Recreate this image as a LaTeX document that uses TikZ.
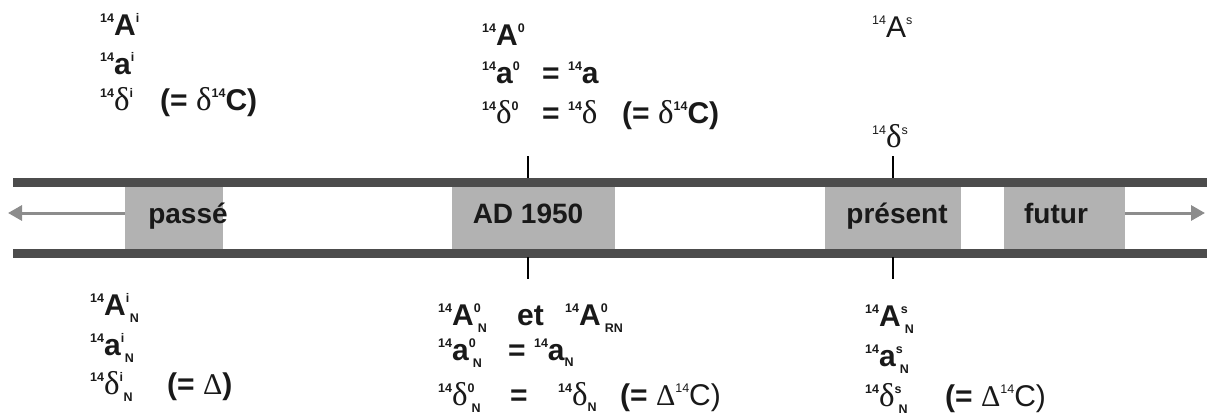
\documentclass[tikz,border=0pt]{standalone}
\usepackage{fontspec}
\setmainfont{Liberation Sans}
\newfontfamily\symf{Liberation Serif}
\usetikzlibrary{arrows.meta}
\newcommand\smallsz{\fontsize{12.5}{12.5}\selectfont}
\newcommand\pre[1]{\raisebox{12.5pt}{\smallsz #1}}
\newcommand\up[1]{\raisebox{12.5pt}{\smallsz #1}}
\newcommand\dn[1]{\raisebox{-6pt}{\smallsz #1}}
\newcommand\updn[2]{\rlap{\raisebox{13pt}{\smallsz #1}}\hspace{4pt}\raisebox{-7pt}{\smallsz #2}}
\newcommand\dl{{\symf\mdseries\fontsize{33}{33}\selectfont δ}}
\newcommand\Dl{{\symf\mdseries Δ}}
\tikzset{
  txt/.style={anchor=base west, inner sep=0pt, font=\fontsize{30}{30}\selectfont\bfseries, text=black!90},
  lighttxt/.style={txt, font=\fontsize{30}{30}\selectfont\mdseries},
  band/.style={draw=black!70, line width=9pt},
  period/.style={fill=black!30, draw=none, inner sep=0pt},
  plabel/.style={anchor=base, inner sep=0pt, font=\fontsize{28}{28}\selectfont\bfseries, text=black!90},
  tick/.style={draw=black, line width=2pt},
  timearrow/.style={draw=black!45, line width=3pt, -{Triangle[length=14pt,width=15pt]}}
}
\begin{document}
\begin{tikzpicture}[x=1pt,y=-1pt]
\useasboundingbox (0,0) rectangle (1207,418);
% period boxes
\path[period] (125,182) rectangle (223,253);
\path[period] (452,182) rectangle (615,253);
\path[period] (825,182) rectangle (961,253);
\path[period] (1004,182) rectangle (1125,253);
% bands
\coordinate (tl) at (13,182); \coordinate (tr) at (1207,182);
\coordinate (bl) at (13,253); \coordinate (br) at (1207,253);
\draw[band] (tl) -- (tr);
\draw[band] (bl) -- (br);
% period labels
\node[plabel] (passe) at (188,223) {passé};
\node[plabel] (ad) at (528,223) {AD 1950};
\node[plabel] (present) at (897,223) {présent};
\node[plabel] (futur) at (1056,223) {futur};
% arrows
\coordinate (pastL) at (125,213); \coordinate (pastend) at (8,213);
\coordinate (futR) at (1125,213); \coordinate (futend) at (1205,213);
\draw[timearrow] (pastL) -- (pastend);
\draw[timearrow] (futR) -- (futend);
% ticks
\coordinate (t1a) at (528,156); \coordinate (t1b) at (528,178);
\coordinate (t1c) at (528,257); \coordinate (t1d) at (528,279);
\coordinate (t2a) at (893,156); \coordinate (t2b) at (893,178);
\coordinate (t2c) at (893,257); \coordinate (t2d) at (893,279);
\draw[tick] (t1a) -- (t1b); \draw[tick] (t1c) -- (t1d);
\draw[tick] (t2a) -- (t2b); \draw[tick] (t2c) -- (t2d);
% top-left
\node[txt] (tla) at (100,35) {\pre{14}A\up{i}};
\node[txt] (tlb) at (100,74) {\pre{14}a\up{i}};
\node[txt] (tlc) at (100,110) {\pre{14}\dl\up{i}};
\node[txt] (tld) at (160,110) {(= \dl\pre{14}C)};
% top-middle
\node[txt] (tma) at (482,45) {\pre{14}A\up{0}};
\node[txt] (tmb) at (482,83) {\pre{14}a\up{0}};
\node[txt] (tmb2) at (542,83) {= \pre{14}a};
\node[txt] (tmc) at (482,123) {\pre{14}\dl\up{0}};
\node[txt] (tmc2) at (542,123) {= \pre{14}\dl};
\node[txt] (tmc3) at (622,123) {(= \dl\pre{14}C)};
% top-right
\node[lighttxt] (tra) at (872,37) {\pre{14}A\up{s}};
\node[lighttxt] (trb) at (872,147) {\pre{14}\dl\up{s}};
% bottom-left
\node[txt] (bla) at (90,315) {\pre{14}A\updn{i}{N}};
\node[txt] (blb) at (90,355) {\pre{14}a\updn{i}{N}};
\node[txt] (blc) at (90,394) {\pre{14}\dl\updn{i}{N}};
\node[txt] (blc2) at (167,394) {(= \Dl)};
% bottom-middle
\node[txt] (bma) at (438,325) {\pre{14}A\updn{0}{N}};
\node[txt] (bma2) at (517,325) {et};
\node[txt] (bma3) at (565,325) {\pre{14}A\updn{0}{RN}};
\node[txt] (bmb) at (438,360) {\pre{14}a\updn{0}{N}};
\node[txt] (bmb2) at (508,360) {= \pre{14}a\dn{N}};
\node[txt] (bmc) at (438,405) {\pre{14}\dl\updn{0}{N}};
\node[txt] (bmc2) at (510,405) {=};
\node[txt] (bmc3) at (558,405) {\pre{14}\dl\dn{N}};
\node[txt] (bmc4) at (620,405) {(= {\mdseries\Dl\pre{14}C)}};
% bottom-right
\node[txt] (bra) at (865,326) {\pre{14}A\updn{s}{N}};
\node[txt] (brb) at (865,366) {\pre{14}a\updn{s}{N}};
\node[txt] (brc) at (865,406) {\pre{14}\dl\updn{s}{N}};
\node[txt] (brc2) at (945,406) {(= {\mdseries\Dl\pre{14}C)}};
\end{tikzpicture}
\end{document}
